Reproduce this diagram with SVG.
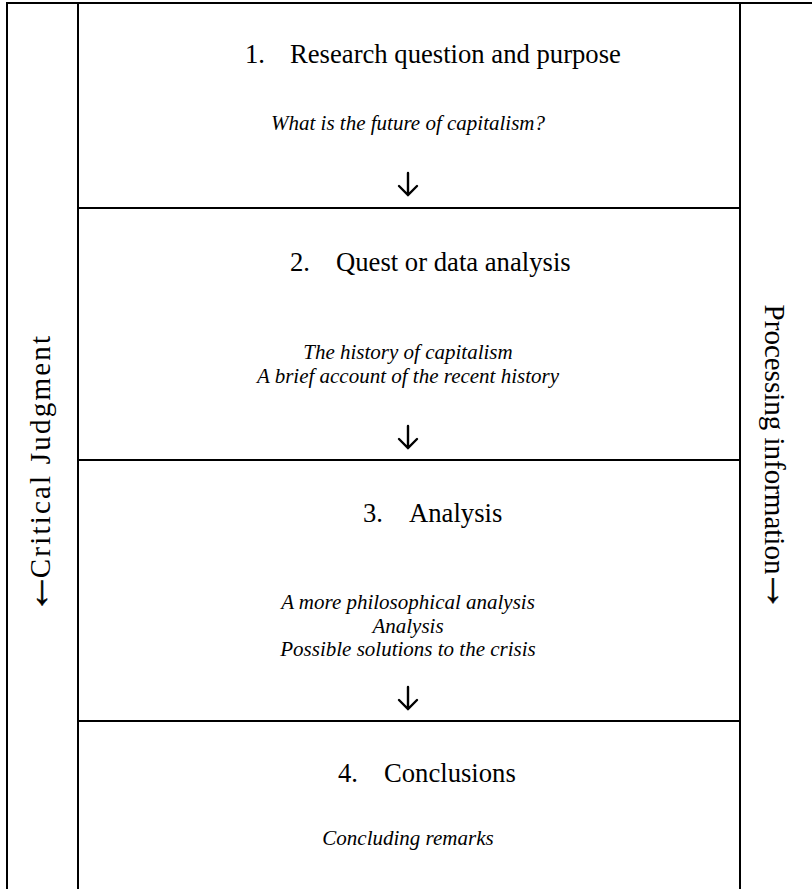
<svg xmlns="http://www.w3.org/2000/svg" width="812" height="889" viewBox="0 0 812 889">
<style>
.ln{stroke:#000;stroke-width:2;fill:none}
.ar{stroke:#000;stroke-width:2.4;fill:none;stroke-linecap:round;stroke-linejoin:miter}
.t{font-family:"Liberation Serif","Times New Roman",serif;font-size:26.67px;fill:#000}
.s{font-family:"Liberation Serif","Times New Roman",serif;font-size:21px;font-style:italic;fill:#000;text-anchor:middle}
.side{font-family:"Liberation Serif","Times New Roman",serif;font-size:29px;fill:#000;text-anchor:middle}
.sa{font-size:42px;stroke:#000;stroke-width:0.5}
</style>
<defs>
<path id="down" d="M0,-11 V11 M-9,2 L0,11 L9,2"/>
</defs>
<g id="frame">
<line class="ln" x1="6" y1="3" x2="812" y2="3"/>
<line class="ln" x1="7" y1="2" x2="7" y2="889"/>
<line class="ln" x1="78" y1="3" x2="78" y2="889"/>
<line class="ln" x1="740" y1="3" x2="740" y2="889"/>
</g>
<g id="connectors">
<line class="ln" x1="78" y1="208" x2="740" y2="208"/>
<line class="ln" x1="78" y1="460" x2="740" y2="460"/>
<line class="ln" x1="78" y1="721" x2="740" y2="721"/>
<use href="#down" class="ar" x="408" y="184"/>
<use href="#down" class="ar" x="408" y="437"/>
<use href="#down" class="ar" x="408" y="698"/>
</g>
<g id="step1">
<text class="t" x="245" y="63">1.</text>
<text class="t" x="290" y="63">Research question and purpose</text>
<text class="s" x="408" y="130">What is the future of capitalism?</text>
</g>
<g id="step2">
<text class="t" x="290" y="271">2.</text>
<text class="t" x="336" y="271">Quest or data analysis</text>
<text class="s" x="408" y="359">The history of capitalism</text>
<text class="s" x="408" y="383">A brief account of the recent history</text>
</g>
<g id="step3">
<text class="t" x="363" y="522">3.</text>
<text class="t" x="409" y="522">Analysis</text>
<text class="s" x="408" y="609">A more philosophical analysis</text>
<text class="s" x="408" y="633">Analysis</text>
<text class="s" x="408" y="656">Possible solutions to the crisis</text>
</g>
<g id="step4">
<text class="t" x="338" y="782">4.</text>
<text class="t" x="384" y="782">Conclusions</text>
<text class="s" x="408" y="845">Concluding remarks</text>
</g>
<g id="critical-judgment">
<text class="side" transform="translate(50,474) rotate(-90)" x="0" y="0" font-size="30"><tspan class="sa" dy="-1">←</tspan><tspan dx="-6" dy="1" letter-spacing="2.2">Critical Judgment</tspan></text>
</g>
<g id="processing-information">
<text class="side" transform="translate(765,458) rotate(90)" x="0" y="0">Processing information<tspan class="sa" dx="-5" dy="-1">→</tspan></text>
</g>
</svg>
